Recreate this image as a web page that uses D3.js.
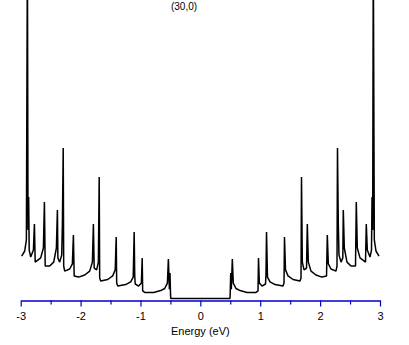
<!DOCTYPE html>
<html><head><meta charset="utf-8">
<script src="https://cdn.jsdelivr.net/npm/d3@7"></script>
<style>body{margin:0;background:#fff;overflow:hidden}</style>
</head><body><svg id="c" width="409" height="345"></svg>
<script>
// Density of states of a (30,0) nanotube, energy in eV, DOS in arbitrary units
const energy = [
 -2.983,-2.933,-2.905,-2.888,-2.878,-2.867,-2.858,-2.833,-2.788,-2.771,-2.758,-2.666,-2.621,-2.604,-2.591,-2.516,-2.449,-2.404,-2.387,-2.379,-2.349,-2.315,-2.304,-2.290,-2.282,-2.265,-2.182,-2.137,-2.120,-2.107,-2.031,-1.931,-1.848,-1.803,-1.786,-1.773,-1.731,-1.703,-1.689,-1.681,-1.664,-1.547,-1.464,-1.422,-1.405,-1.397,-1.380,-1.247,-1.163,-1.121,-1.105,-1.096,-1.088,-1.030,-0.985,-0.971,-0.963,-0.929,-0.779,-0.662,-0.595,-0.550,-0.534,-0.517,-0.507,-0.499,-0.495,
 0.495,0.499,0.507,0.517,0.534,0.550,0.595,0.662,0.779,0.929,0.963,0.971,0.985,1.030,1.088,1.096,1.105,1.121,1.163,1.247,1.380,1.397,1.405,1.422,1.464,1.547,1.664,1.681,1.689,1.703,1.731,1.773,1.786,1.803,1.848,1.931,2.031,2.107,2.120,2.137,2.182,2.265,2.282,2.290,2.304,2.315,2.349,2.379,2.387,2.404,2.449,2.516,2.591,2.604,2.621,2.666,2.758,2.771,2.788,2.833,2.858,2.867,2.878,2.888,2.905,2.933,2.983
];
const dos = [
 1.48,1.65,2.02,11.8,2.35,3.45,1.68,1.45,1.68,2.55,1.28,1.42,1.75,3.28,1.15,1.15,1.28,1.75,3.02,1.42,1.28,1.52,2.52,5.08,1.15,0.98,1.05,1.22,2.18,0.82,0.78,0.85,0.98,1.28,2.55,1.08,1.02,1.28,4.12,0.75,0.65,0.70,0.82,1.02,2.12,0.58,0.48,0.53,0.62,0.78,2.28,0.85,0.55,0.48,0.58,1.42,0.32,0.27,0.27,0.33,0.40,0.58,1.38,0.38,0.92,0.28,0.07,
 0.07,0.28,0.92,0.38,1.38,0.58,0.40,0.33,0.27,0.27,0.32,1.42,0.58,0.48,0.55,0.85,2.28,0.78,0.62,0.53,0.48,0.58,2.12,1.02,0.82,0.70,0.65,0.75,4.12,1.28,1.02,1.08,2.55,1.28,0.98,0.85,0.78,0.82,2.18,1.22,1.05,0.98,1.15,5.08,2.52,1.52,1.28,1.42,3.02,1.75,1.28,1.15,1.15,3.28,1.75,1.42,1.28,2.55,1.68,1.45,1.68,3.45,2.35,11.8,2.02,1.65,1.48
];
const majorTicks = [-3,-2,-1,0,1,2,3];
const tickLabels = ["-3","-2","-1","0","1","2","3"];
const minorTicks = [-2.5,-1.5,-0.5,0.5,1.5,2.5];
const title = "(30,0)";
const xLabel = "Energy (eV)";

const svg = d3.select("#c");
const x = d3.scaleLinear().domain([-3,3]).range([20.7,380]);
const y = d3.scaleLinear().domain([0,10]).range([300.5,0.5]);

const pts = energy.map((e,i)=>[e,dos[i]]);
svg.append("path")
  .datum(pts)
  .attr("fill","none").attr("stroke","#000").attr("stroke-width",1.5)
  .attr("stroke-linejoin","bevel")
  .attr("d", d3.line().x(d=>x(d[0])).y(d=>y(d[1])));

const axisColor = "#0000cc";
const gMinor = svg.append("g").attr("transform","translate(0,300.5)")
  .call(d3.axisBottom(x).tickValues(minorTicks).tickSize(4).tickSizeOuter(0).tickFormat(""));
const gMajor = svg.append("g").attr("transform","translate(0,300.5)")
  .call(d3.axisBottom(x).tickValues(majorTicks).tickSize(6).tickSizeOuter(0)
    .tickFormat((d,i)=>tickLabels[i]));
[gMinor,gMajor].forEach(g=>{
  g.selectAll("path.domain").attr("stroke",axisColor).attr("stroke-width",1.2);
  g.selectAll(".tick line").attr("stroke",axisColor).attr("stroke-width",1.2);
});
gMajor.selectAll(".tick text")
  .attr("fill","#000").attr("y",19).attr("dy",0)
  .style("font-family","Liberation Sans, Arial, sans-serif").style("font-size","11px");

svg.append("text").attr("x",x(0)).attr("y",334.5).attr("text-anchor","middle")
  .style("font-family","Liberation Sans, Arial, sans-serif").style("font-size","11px")
  .text(xLabel);
svg.append("text").attr("x",184).attr("y",10).attr("text-anchor","middle")
  .style("font-family","Liberation Sans, Arial, sans-serif").style("font-size","10px")
  .text(title);
</script></body></html>
